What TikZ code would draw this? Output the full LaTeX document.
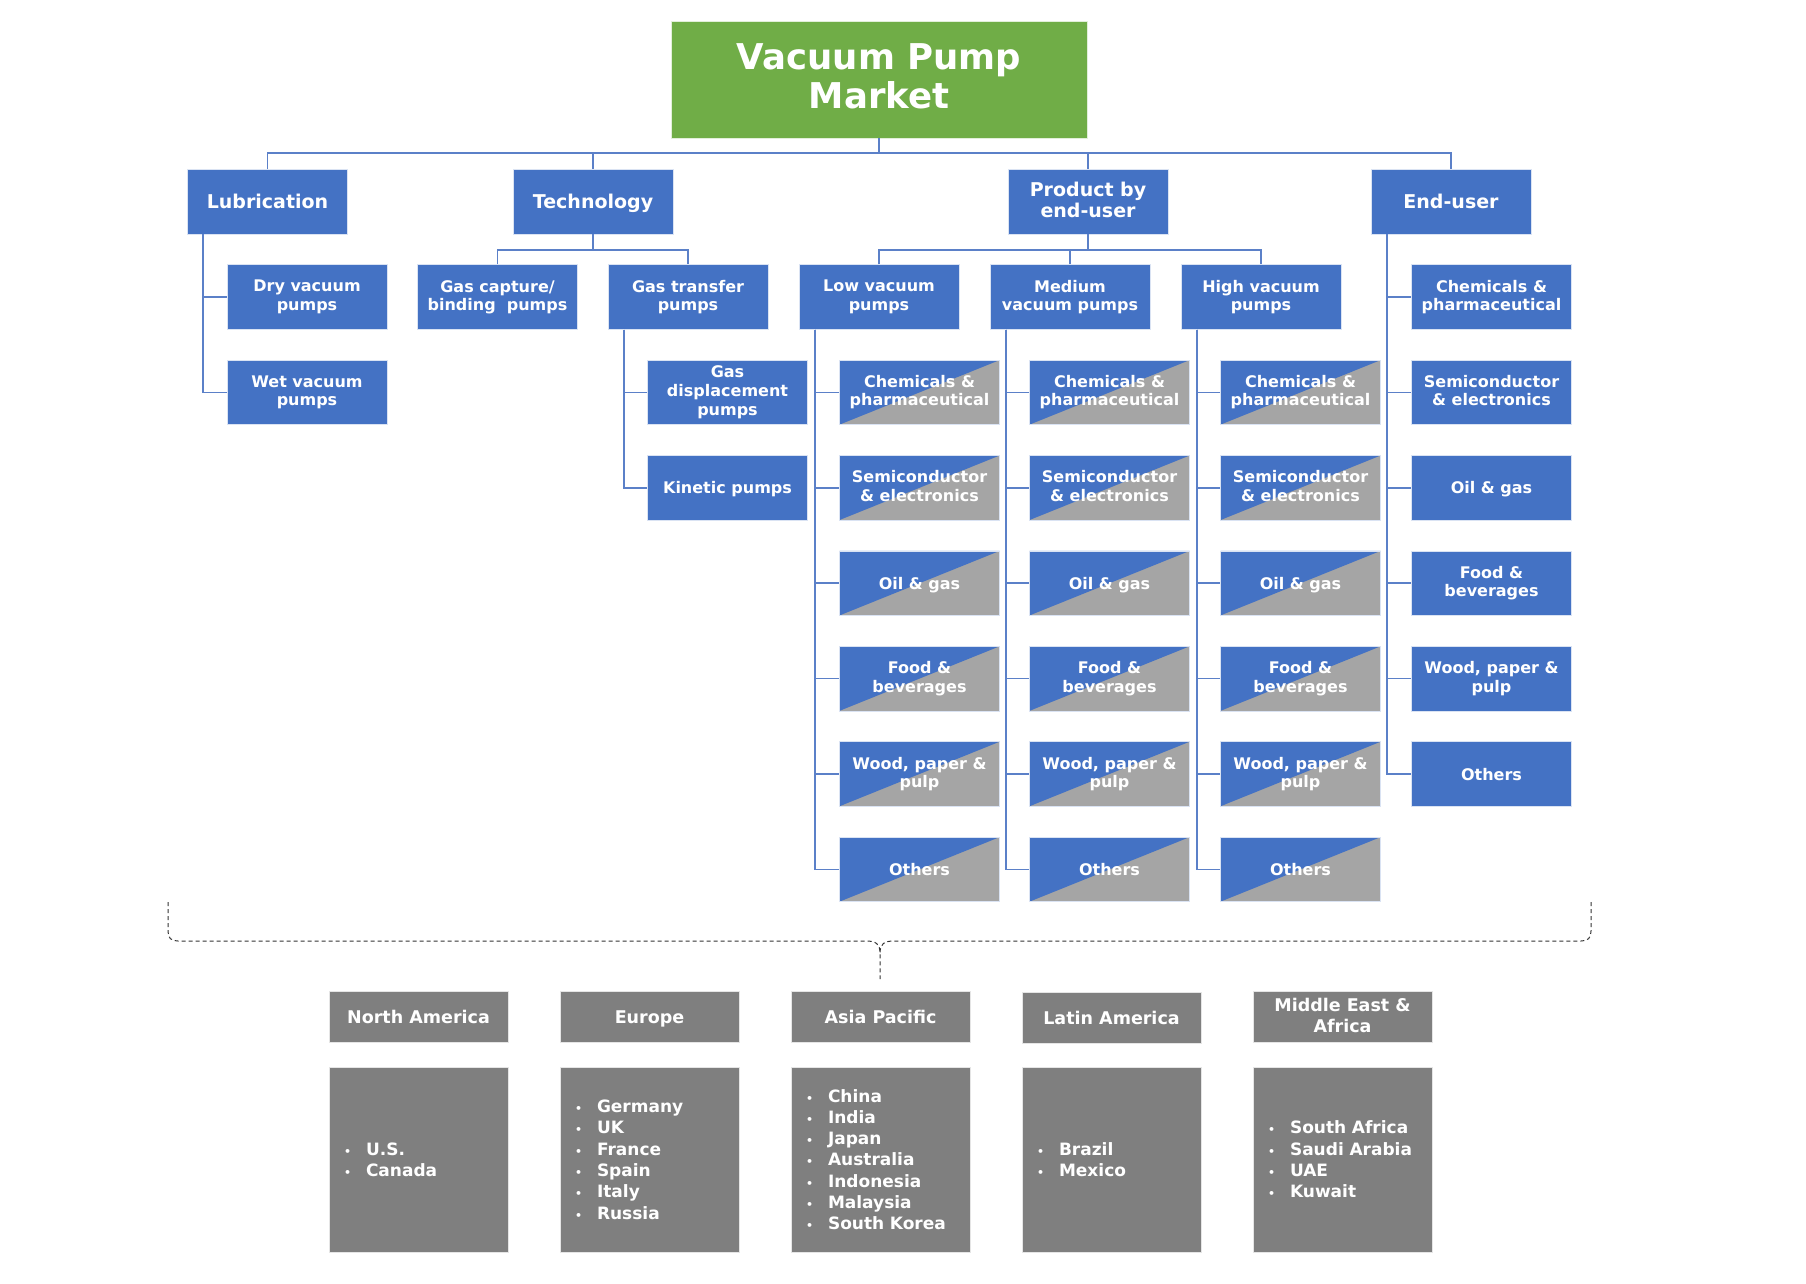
\documentclass[tikz,border=0pt]{standalone}
\usepackage{fontspec}
\setmainfont{DejaVu Sans}
\definecolor{blu}{HTML}{4472C4}
\definecolor{grn}{HTML}{70AD47}
\definecolor{gry}{HTML}{A5A5A5}
\definecolor{rgn}{HTML}{7F7F7F}
\definecolor{lnk}{HTML}{5B80C8}
\newcommand{\rgitem}[1]{\makebox[22pt][l]{\fontsize{11}{11}\selectfont•}#1}
\begin{document}
\begin{tikzpicture}[x=1pt,y=-1pt,
  base/.style={rectangle, inner sep=0pt, text=white, align=center, draw=white!80!blu, line width=0.6pt,
    execute at begin node={\rule{0pt}{#1}}, execute at end node={\vphantom{Ag}}},
  titlebox/.style={base=34.4pt, fill=grn, draw=white!80!grn, minimum width=416pt, minimum height=117pt, font=\fontsize{35.5}{39}\selectfont\bfseries},
  l1box/.style={base=18.4pt, fill=blu, minimum width=160pt, minimum height=65pt, font=\fontsize{19}{20.7}\selectfont\bfseries},
  l2box/.style={base=15.5pt, fill=blu, minimum width=160pt, minimum height=64.5pt, font=\fontsize{16}{18.4}\selectfont\bfseries},
  diagbox/.style={l2box, fill=gry, path picture={\fill[blu] (path picture bounding box.south west) -- (path picture bounding box.north west) -- (path picture bounding box.north east) -- cycle;}},
  rhead/.style={base=17pt, fill=rgn, draw=white!80!rgn, minimum width=179pt, minimum height=51pt, font=\fontsize{17.5}{20.7}\selectfont\bfseries},
  rbody/.style={base=16.5pt, fill=rgn, draw=white!80!rgn, minimum width=179pt, minimum height=185pt, text width=149pt, align=left, font=\fontsize{17}{21.3}\selectfont\bfseries},
  link/.style={draw=lnk, line width=1.6pt},
  brace/.style={draw=black!80, line width=1pt, dash pattern=on 4pt off 3pt}
]
\path[fill=white, use as bounding box] (0,0) rectangle (1806,1284);

% title and level 1
\node[titlebox] (root) at (879,79.5) {Vacuum Pump\\Market};
\node[l1box] (lub) at (267.5,201.5) {Lubrication};
\node[l1box] (tech) at (593,201.5) {Technology};
\node[l1box] (prod) at (1088,201.5) {Product by\\end-user};
\node[l1box] (endu) at (1451,201.5) {End-user};

% level 2
\node[l2box] (dry) at (307,297) {Dry vacuum\\pumps};
\node[l2box] (wet) at (307,392.4) {Wet vacuum\\pumps};
\node[l2box] (gcap) at (497.5,297) {Gas capture/\\binding\ \ pumps};
\node[l2box] (gtr) at (688,297) {Gas transfer\\pumps};
\node[l2box, font=\fontsize{16}{19}\selectfont\bfseries] (gdis) at (727.5,392.4) {Gas\\displacement\\pumps};
\node[l2box] (kin) at (727.5,487.8) {Kinetic pumps};
\node[l2box] (low) at (879,297) {Low vacuum\\pumps};
\node[l2box] (med) at (1070,297) {Medium\\vacuum pumps};
\node[l2box] (high) at (1261,297) {High vacuum\\pumps};

% end-user children
\node[l2box] (e1) at (1491.5,297) {Chemicals \&\\pharmaceutical};
\node[l2box] (e2) at (1491.5,392.4) {Semiconductor\\\& electronics};
\node[l2box] (e3) at (1491.5,487.8) {Oil \& gas};
\node[l2box] (e4) at (1491.5,583.2) {Food \&\\beverages};
\node[l2box] (e5) at (1491.5,678.6) {Wood, paper \&\\pulp};
\node[l2box] (e6) at (1491.5,774) {Others};

% vacuum-level children
\foreach \p/\cx in {low/919.5,med/1109.5,high/1300.5}{
  \node[diagbox] (\p1) at (\cx,392.4) {Chemicals \&\\pharmaceutical};
  \node[diagbox] (\p2) at (\cx,487.8) {Semiconductor\\\& electronics};
  \node[diagbox] (\p3) at (\cx,583.2) {Oil \& gas};
  \node[diagbox] (\p4) at (\cx,678.6) {Food \&\\beverages};
  \node[diagbox] (\p5) at (\cx,774) {Wood, paper \&\\pulp};
  \node[diagbox] (\p6) at (\cx,869.4) {Others};
  \foreach \k in {1,...,6}
    \draw[link] ([xshift=16pt]\p.south west) |- (\p\k.west);
}

% connectors
\coordinate (busy) at (0,153);
\coordinate (t2) at (0,250);
\draw[link] (root.south) -- (root.south |- busy);
\draw[link] (lub.north) -- (lub.north |- busy) -- (endu.north |- busy) -- (endu.north);
\draw[link] (tech.north) -- (tech.north |- busy);
\draw[link] (prod.north) -- (prod.north |- busy);
\draw[link] (tech.south) -- (tech.south |- t2);
\draw[link] (gcap.north) -- (gcap.north |- t2) -- (gtr.north |- t2) -- (gtr.north);
\draw[link] (prod.south) -- (prod.south |- t2);
\draw[link] (low.north) -- (low.north |- t2) -- (high.north |- t2) -- (high.north);
\draw[link] (med.north) -- (med.north |- t2);
\draw[link] ([xshift=16pt]lub.south west) |- (dry.west);
\draw[link] ([xshift=16pt]lub.south west) |- (wet.west);
\draw[link] ([xshift=16pt]gtr.south west) |- (gdis.west);
\draw[link] ([xshift=16pt]gtr.south west) |- (kin.west);
\foreach \k in {1,...,6}
  \draw[link] ([xshift=16pt]endu.south west) |- (e\k.west);

% dashed brace
\coordinate (bl) at (168,902);
\coordinate (br) at (1591,902);
\coordinate (btip) at (880,979);
\draw[brace] (bl) -- (168,931) .. controls (168,938) and (171,941) .. (178,941) -- (866,941) .. controls (876,941) and (880,944) .. (880,953) -- (btip);
\draw[brace] (br) -- (1591,931) .. controls (1591,938) and (1588,941) .. (1581,941) -- (894,941) .. controls (884,941) and (880,944) .. (880,953);

% regions
\node[rhead] (nah) at (418.5,1016.5) {North America};
\node[rhead] (euh) at (649.5,1016.5) {Europe};
\node[rhead] (aph) at (880.5,1016.5) {Asia Pacific};
\node[rhead] (lah) at (1111.5,1018) {Latin America};
\node[rhead] (meh) at (1342.5,1017) {Middle East \&\\Africa};
\node[rbody] (nab) at (418.5,1159.5) {\rgitem{U.S.}\\\rgitem{Canada}};
\node[rbody] (eub) at (649.5,1159.5) {\rgitem{Germany}\\\rgitem{UK}\\\rgitem{France}\\\rgitem{Spain}\\\rgitem{Italy}\\\rgitem{Russia}};
\node[rbody] (apb) at (880.5,1159.5) {\rgitem{China}\\\rgitem{India}\\\rgitem{Japan}\\\rgitem{Australia}\\\rgitem{Indonesia}\\\rgitem{Malaysia}\\\rgitem{South Korea}};
\node[rbody] (lab) at (1111.5,1159.5) {\rgitem{Brazil}\\\rgitem{Mexico}};
\node[rbody] (meb) at (1342.5,1159.5) {\rgitem{South Africa}\\\rgitem{Saudi Arabia}\\\rgitem{UAE}\\\rgitem{Kuwait}};
\end{tikzpicture}
\end{document}
